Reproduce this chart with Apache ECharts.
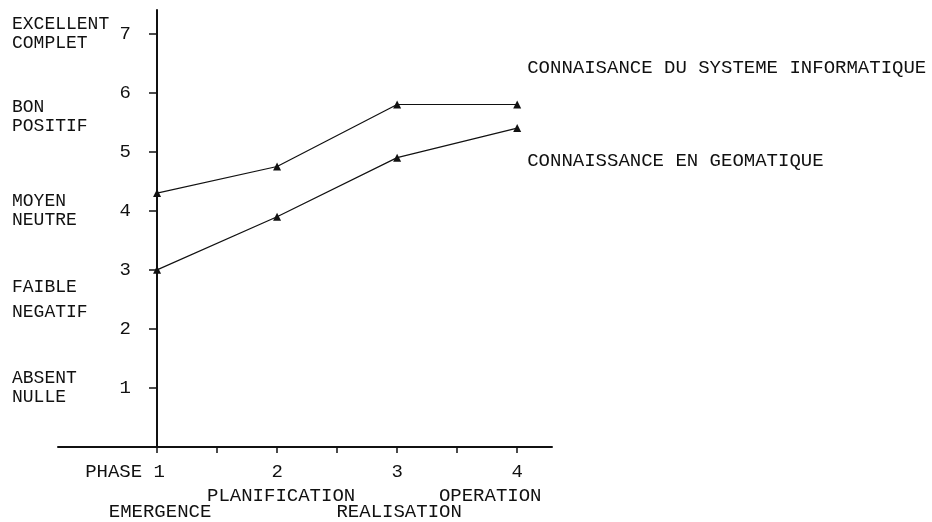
<!DOCTYPE html>
<html lang="fr">
<head>
    <meta charset="UTF-8">
    <title>connaissance</title>
    <script src="https://cdn.jsdelivr.net/npm/echarts@6/dist/echarts.min.js"></script>
    <style>
        html, body { margin: 0; padding: 0; background: #fff; }
        #chart { width: 932px; height: 522px; }
    </style>
</head>
<body>
<div id="chart"></div>
<script>
    // données
    var phases = [1, 2, 3, 4];
    var phaseNames = ['EMERGENCE', 'PLANIFICATION', 'REALISATION', 'OPERATION'];
    var systemeInfo = [4.3, 4.75, 5.8, 5.8];
    var geomatique = [3.0, 3.9, 4.9, 5.4];
    var yTicks = [1, 2, 3, 4, 5, 6, 7];
    var xTicks = [1, 1.5, 2, 2.5, 3, 3.5, 4];
    var levelValues = [1, 2.5, 4, 5.6, 7];
    var levelLabels = ['ABSENT\nNULLE', 'FAIBLE\nNEGATIF', 'MOYEN\nNEUTRE', 'BON\nPOSITIF', 'EXCELLENT\nCOMPLET'];
    var seriesNames = ['CONNAISANCE DU SYSTEME INFORMATIQUE', 'CONNAISSANCE EN GEOMATIQUE'];

    var FONT = 'Liberation Mono';
    var INK = '#111';

    function pairs(ys) {
        return phases.map(function (p, i) { return [p, ys[i]]; });
    }

    var chart = echarts.init(document.getElementById('chart'));
    chart.setOption({
        animation: false,
        backgroundColor: '#fff',
        grid: { left: 58, right: 380, top: 10, bottom: 75 },
        xAxis: {
            type: 'value',
            min: 0.175,
            max: 4.29,
            splitLine: { show: false },
            axisLine: { show: true, lineStyle: { color: INK, width: 2 } },
            axisTick: { show: true, length: 6, customValues: xTicks, lineStyle: { color: INK, width: 1.5 } },
            axisLabel: {
                customValues: phases,
                margin: 15,
                color: INK,
                fontFamily: FONT,
                fontSize: 19,
                formatter: function (v) {
                    return v === 1 ? '{p|PHASE 1}' : String(v);
                },
                rich: {
                    p: { fontFamily: FONT, fontSize: 19, color: INK, padding: [0, 64, 0, 0] }
                }
            }
        },
        yAxis: [
            {
                type: 'value',
                position: 'left',
                min: 0,
                max: 7.4,
                offset: -99,
                splitLine: { show: false },
                axisLine: { show: true, lineStyle: { color: INK, width: 2 } },
                axisTick: { show: true, length: 8, customValues: yTicks, lineStyle: { color: INK, width: 1.5 } },
                axisLabel: {
                    customValues: yTicks,
                    margin: 26,
                    color: INK,
                    fontFamily: FONT,
                    fontSize: 19
                }
            },
            {
                // échelle qualitative (mêmes bornes)
                type: 'value',
                position: 'left',
                min: 0,
                max: 7.4,
                offset: -99,
                splitLine: { show: false },
                axisLine: { show: false },
                axisTick: { show: false },
                axisLabel: {
                    customValues: levelValues,
                    margin: 145,
                    align: 'left',
                    color: INK,
                    fontFamily: FONT,
                    fontSize: 18,
                    lineHeight: 19,
                    formatter: function (v) {
                        var i = levelValues.indexOf(v);
                        if (i < 0) return '';
                        // FAIBLE / NEGATIF est plus espacé sur l'original
                        if (i === 1) return levelLabels[i].split('\n').map(function (s) { return '{w|' + s + '}'; }).join('\n');
                        return levelLabels[i];
                    },
                    rich: {
                        w: { fontFamily: FONT, fontSize: 18, color: INK, lineHeight: 25 }
                    }
                }
            }
        ],
        series: [
            {
                name: seriesNames[0],
                type: 'line',
                data: pairs(systemeInfo),
                symbol: 'triangle',
                symbolSize: 8,
                lineStyle: { color: INK, width: 1.2 },
                itemStyle: { color: INK },
                endLabel: {
                    show: true,
                    formatter: '{a}',
                    offset: [2, -37],
                    color: INK,
                    fontFamily: FONT,
                    fontSize: 19
                }
            },
            {
                name: seriesNames[1],
                type: 'line',
                data: pairs(geomatique),
                symbol: 'triangle',
                symbolSize: 8,
                lineStyle: { color: INK, width: 1.2 },
                itemStyle: { color: INK },
                endLabel: {
                    show: true,
                    formatter: '{a}',
                    offset: [2, 33],
                    color: INK,
                    fontFamily: FONT,
                    fontSize: 19
                }
            }
        ]
    });

    // noms des phases sous l'axe, placés depuis l'échelle
    var nameDx = [3, 4, 2, -27];
    var nameDy = [65, 49, 65, 49];
    var texts = phaseNames.map(function (name, i) {
        var pt = chart.convertToPixel({ xAxisIndex: 0, yAxisIndex: 0 }, [phases[i], 0]);
        return {
            type: 'text',
            x: pt[0] + nameDx[i],
            y: pt[1] + nameDy[i],
            style: {
                text: name,
                fill: INK,
                font: '19px "' + FONT + '"',
                align: 'center',
                verticalAlign: 'middle'
            }
        };
    });
    chart.setOption({ graphic: texts });
</script>
</body>
</html>
